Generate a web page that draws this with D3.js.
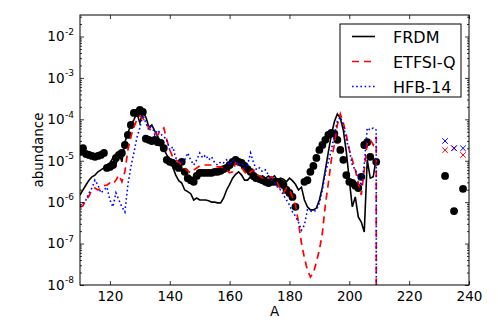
<!DOCTYPE html>
<html><head><meta charset="utf-8">
<script src="https://cdn.jsdelivr.net/npm/d3@7"></script>
<style>body{margin:0;background:#fff} svg{display:block} text{font-family:"DejaVu Sans",sans-serif;fill:#000}</style>
</head><body><svg id="c" width="498" height="336"></svg>
<script>
// ---- data ----
const massStart = 110; // model series give one value per mass number A = 110, 111, ...
const frdm = [
 1.49e-6,1.97e-6,2.6e-6,3.4e-6,4.1e-6,4.5e-6,5.4e-6,6.0e-6,6.7e-6,7.9e-6,
 8.9e-6,1.17e-5,7.9e-6,1.54e-5,9.4e-6,2.8e-5,4.7e-5,7.3e-5,9.7e-5,1.43e-4,
 8.2e-5,1.51e-4,1.14e-4,6.5e-5,7.3e-5,5.2e-5,3.8e-5,2.8e-5,1.9e-5,1.38e-5,
 1.05e-5,7.1e-6,4.5e-6,3.3e-6,2.9e-6,1.97e-6,1.8e-6,1.6e-6,1.13e-6,1.26e-6,
 1.13e-6,1.13e-6,1.13e-6,1.08e-6,1.0e-6,1.0e-6,9.6e-7,9.6e-7,1.26e-6,1.97e-6,
 2.7e-6,3.8e-6,4.7e-6,5.4e-6,4.5e-6,3.4e-6,3.4e-6,4.1e-6,3.4e-6,4.3e-6,
 3.6e-6,4.3e-6,3.8e-6,4.3e-6,3.8e-6,4.3e-6,3.4e-6,3.8e-6,3.6e-6,3.1e-6,
 3.8e-6,3.3e-6,2.7e-6,1.97e-6,2.3e-6,1.13e-6,7.7e-7,6.5e-7,6.5e-7,7.2e-7,
 1.13e-6,2.3e-6,6.0e-6,1.63e-5,4.2e-5,8.7e-5,1.35e-4,1.06e-4,5.5e-5,1.63e-5,
 3.4e-6,7.7e-7,1.34e-6,4.4e-7,3.3e-7,1.9e-7,1.05e-5,3.8e-6,4.1e-6,1.17e-5
];
const etfsi = [
 7.7e-7,8.2e-7,1.13e-6,1.4e-6,1.97e-6,2.2e-6,1.97e-6,2.2e-6,2.5e-6,2.6e-6,
 2.9e-6,2.7e-6,3.4e-6,4.5e-6,3.1e-6,5.4e-6,1.82e-5,3.8e-5,6.5e-5,9.7e-5,
 1.2e-4,1.06e-4,8.2e-5,6.2e-5,5.0e-5,4.7e-5,4.2e-5,5.5e-5,6.2e-5,3.2e-5,
 1.82e-5,1.24e-5,1.05e-5,9.4e-6,7.9e-6,6.7e-6,5.7e-6,5.1e-6,6.0e-6,6.7e-6,
 7.5e-6,7.9e-6,7.9e-6,7.9e-6,7.9e-6,7.5e-6,7.1e-6,7.1e-6,6.7e-6,6.0e-6,
 5.1e-6,5.4e-6,8.9e-6,7.9e-6,6.7e-6,5.4e-6,4.5e-6,5.4e-6,6.0e-6,4.5e-6,
 4.3e-6,3.8e-6,3.4e-6,3.8e-6,4.1e-6,3.4e-6,2.9e-6,1.97e-6,1.67e-6,2.2e-6,
 1.97e-6,1.34e-6,8.6e-7,3.3e-7,1.03e-7,4.5e-8,2.3e-8,1.56e-8,1.95e-8,3.6e-8,
 7.0e-8,1.8e-7,8.6e-7,2.9e-6,1.05e-5,2.4e-5,7.3e-5,1.35e-4,8.2e-5,4.2e-5,
 1.82e-5,1.05e-5,6.0e-6,2.9e-6,1.49e-6,6.0e-6,2.8e-5,3.2e-5,2.4e-5,3.8e-5,
 0
];
const hfb = [
 7.7e-7,9.6e-7,1.13e-6,1.67e-6,2.2e-6,3.4e-6,2.6e-6,1.67e-6,1.97e-6,2.3e-6,
 1.13e-6,7.7e-7,1.67e-6,1.13e-6,7.7e-7,5.8e-7,2.6e-6,7.1e-6,1.54e-5,3.6e-5,
 6.2e-5,1.28e-4,8.2e-5,5.5e-5,7.3e-5,4.2e-5,5.5e-5,4.4e-5,3.8e-5,3.2e-5,
 1.82e-5,2.15e-5,1.17e-5,1.05e-5,8.9e-6,1.05e-5,1.54e-5,1.05e-5,7.9e-6,1.05e-5,
 1.54e-5,1.17e-5,1.38e-5,1.05e-5,1.24e-5,8.9e-6,7.9e-6,9.4e-6,8.9e-6,1.05e-5,
 7.9e-6,1.05e-5,9.4e-6,7.9e-6,8.9e-6,6.7e-6,7.9e-6,1.54e-5,8.9e-6,6.0e-6,
 6.7e-6,5.4e-6,6.0e-6,4.5e-6,3.4e-6,2.9e-6,2.3e-6,1.97e-6,1.49e-6,1.13e-6,
 8.6e-7,5.8e-7,4.6e-7,3.3e-7,2.1e-7,2.8e-7,6.5e-7,6.1e-7,5.8e-7,6.5e-7,
 9.6e-7,1.97e-6,5.1e-6,9.4e-6,1.82e-5,4.2e-5,9.1e-5,1.14e-4,7.3e-5,3.2e-5,
 1.82e-5,7.9e-6,6.0e-6,4.3e-6,2.5e-6,7.9e-6,6.2e-5,5.5e-5,6.2e-5,5.5e-5,
 0
];
const solarA = [
 110,111,112,113,114,115,116,117,118,119,120,121,122,123,124,125,126,127,128,129,
 130,131,132,133,134,135,136,137,138,139,140,141,142,143,144,145,146,147,148,149,
 150,151,152,153,154,155,156,157,158,159,160,161,162,163,164,165,166,167,168,169,
 170,171,172,173,174,175,176,177,178,179,180,181,182,
 185,186,187,188,189,190,191,192,193,194,195,196,197,198,199,200,201,202,203,204,
 205,206,207,209
];
const solar = [
 1.63e-5,2.0e-5,1.46e-5,1.38e-5,1.31e-5,1.24e-5,1.31e-5,1.38e-5,1.54e-5,6.7e-6,
 7.1e-6,7.9e-6,1.17e-5,1.38e-5,1.54e-5,2.4e-5,4.2e-5,7.3e-5,1.43e-4,1.43e-4,
 1.69e-4,1.51e-4,3.4e-5,3.2e-5,3.0e-5,3.2e-5,2.8e-5,2.7e-5,2.0e-5,1.05e-5,
 9.4e-6,8.9e-6,7.5e-6,6.7e-6,9.4e-6,5.4e-6,3.8e-6,3.4e-6,3.1e-6,4.3e-6,
 5.1e-6,5.1e-6,5.1e-6,5.1e-6,5.1e-6,5.4e-6,5.4e-6,5.7e-6,6.3e-6,6.7e-6,
 7.9e-6,9.4e-6,1.05e-5,9.4e-6,8.9e-6,7.5e-6,6.3e-6,5.4e-6,4.3e-6,3.8e-6,
 3.6e-6,3.4e-6,3.1e-6,2.9e-6,3.1e-6,3.1e-6,3.1e-6,2.9e-6,2.6e-6,1.97e-6,
 1.67e-6,1.34e-6,7.7e-7,
 3.1e-6,3.4e-6,5.4e-6,7.5e-6,1.17e-5,1.82e-5,2.4e-5,3.2e-5,4.2e-5,4.7e-5,
 4.5e-5,3.2e-5,1.82e-5,1.05e-5,4.5e-6,3.1e-6,2.9e-6,2.5e-6,2.2e-6,4.1e-6,
 2.4e-5,2.8e-5,1.24e-5,9.4e-6
];
const actA = [232, 235, 238];
const solarAct = [4.3e-6, 6.1e-7, 2.1e-6];
const etfsiAct = [1.8e-5, 2.0e-5, 1.38e-5];
const hfbAct = [3.0e-5, 2.0e-5, 2.0e-5];
const xTicks = [120, 140, 160, 180, 200, 220, 240];
const yTicks = [1e-8, 1e-7, 1e-6, 1e-5, 1e-4, 1e-3, 1e-2];
const seriesNames = ["FRDM", "ETFSI-Q", "HFB-14"];
const xDomain = [110, 240];
const yDomain = [1e-8, 0.033];

// ---- drawing ----
const svg = d3.select("#c");
const L = 80, R = 469, T = 15, B = 285;
const x = d3.scaleLinear().domain(xDomain).range([L, R]);
const y = d3.scaleLog().domain(yDomain).range([B, T]);
const yv = v => y(Math.max(v, 1e-300));

svg.append("defs").append("clipPath").attr("id", "clip")
  .append("rect").attr("x", L).attr("y", T).attr("width", R - L).attr("height", B - T);

const plot = svg.append("g").attr("clip-path", "url(#clip)");

// solar r-abundances (dots)
plot.selectAll("circle.sol").data(solarA.map((a, i) => [a, solar[i]]).concat(actA.map((a, i) => [a, solarAct[i]])))
  .join("circle").attr("class", "sol")
  .attr("cx", d => x(d[0])).attr("cy", d => y(d[1])).attr("r", 3.9).attr("fill", "#000");

const styles = [
  {data: frdm, color: "#000000", dash: null, w: 1.6},
  {data: etfsi, color: "#ff0000", dash: "7,5", w: 1.7},
  {data: hfb, color: "#0000ff", dash: "1.6,2.6", w: 1.6}
];
const line = d3.line().x(d => x(d[0])).y(d => yv(d[1]));
styles.forEach(s => {
  plot.append("path")
    .datum(s.data.map((v, i) => [massStart + i, v]))
    .attr("d", line).attr("fill", "none")
    .attr("stroke", s.color).attr("stroke-width", s.w)
    .attr("stroke-dasharray", s.dash);
});

// actinide crosses
const crossPath = "M-2.8,-2.8L2.8,2.8M-2.8,2.8L2.8,-2.8";
[[etfsiAct, "#ff0000"], [hfbAct, "#0000ff"]].forEach(([vals, col]) => {
  plot.selectAll(null).data(actA.map((a, i) => [a, vals[i]])).join("path")
    .attr("transform", d => `translate(${x(d[0])},${y(d[1])})`)
    .attr("d", crossPath).attr("stroke", col).attr("stroke-width", 1).attr("fill", "none");
});

// axes
function styleAxis(g) {
  g.select(".domain").remove();
  g.selectAll(".tick line").attr("stroke", "#000").attr("stroke-width", 0.8);
  g.attr("font-family", "DejaVu Sans").attr("font-size", 13.5);
}
const minors = [];
for (let e = -8; e <= -2; e++) for (let m = 2; m <= 9; m++) { const v = m * Math.pow(10, e); if (v <= yDomain[1]) minors.push(v); }

svg.append("g").attr("transform", `translate(0,${B})`)
  .call(d3.axisBottom(x).tickValues(xTicks).tickSize(-4).tickPadding(6).tickFormat(d3.format("d")))
  .call(styleAxis);
svg.append("g").attr("transform", `translate(0,${T})`)
  .call(d3.axisTop(x).tickValues(xTicks).tickSize(-4).tickFormat(""))
  .call(styleAxis);
const yl = svg.append("g").attr("transform", `translate(${L},0)`)
  .call(d3.axisLeft(y).tickValues(yTicks).tickSize(-4).tickPadding(6).tickFormat(""))
  .call(styleAxis);
yl.selectAll(".tick text").each(function(d) {
  const t = d3.select(this);
  const e = Math.round(Math.log10(d));
  t.append("tspan").text("10");
  t.append("tspan").attr("dy", -6.5).attr("dx", 0.5).attr("font-size", 9).text("-" + Math.abs(e));
});
svg.append("g").attr("transform", `translate(${L},0)`)
  .call(d3.axisLeft(y).tickValues(minors).tickSize(-2).tickFormat(""))
  .call(styleAxis);
svg.append("g").attr("transform", `translate(${R},0)`)
  .call(d3.axisRight(y).tickValues(yTicks).tickSize(-4).tickFormat(""))
  .call(styleAxis);
svg.append("g").attr("transform", `translate(${R},0)`)
  .call(d3.axisRight(y).tickValues(minors).tickSize(-2).tickFormat(""))
  .call(styleAxis);

// frame
svg.append("rect").attr("x", L).attr("y", T).attr("width", R - L).attr("height", B - T)
  .attr("fill", "none").attr("stroke", "#000").attr("stroke-width", 1);

// axis labels
svg.append("text").attr("x", (L + R) / 2).attr("y", 316).attr("text-anchor", "middle")
  .attr("font-size", 13.5).text("A");
svg.append("text").attr("transform", `translate(43,${(T + B) / 2}) rotate(-90)`)
  .attr("text-anchor", "middle").attr("font-size", 13.5).text("abundance");

// legend
const lg = svg.append("g");
lg.append("rect").attr("x", 340).attr("y", 24).attr("width", 121).attr("height", 73)
  .attr("fill", "#fff").attr("stroke", "#000").attr("stroke-width", 1);
seriesNames.forEach((name, i) => {
  const yy = 36.5 + i * 25;
  const s = styles[i];
  lg.append("line").attr("x1", 352).attr("x2", 375).attr("y1", yy).attr("y2", yy)
    .attr("stroke", s.color).attr("stroke-width", s.w).attr("stroke-dasharray", s.dash);
  lg.append("text").attr("x", 393).attr("y", yy + 6).attr("font-size", 16).text(name);
});
</script>
</body></html>
